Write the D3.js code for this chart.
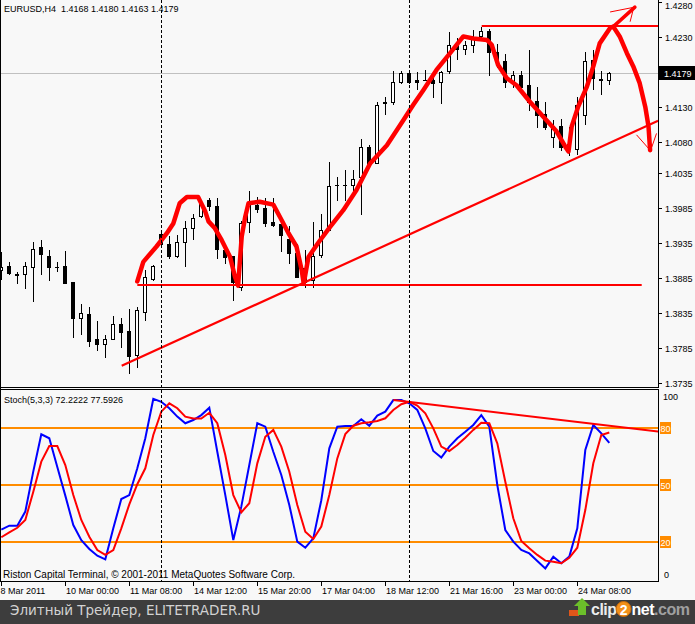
<!DOCTYPE html>
<html><head><meta charset="utf-8">
<script src="https://cdn.jsdelivr.net/npm/d3@7"></script>
<style>body{margin:0;background:#f8f8f8}svg{display:block}</style>
</head><body><svg id="c" width="695" height="624"></svg>
<script>
// ---------- DATA ----------
const symbolTitle = "EURUSD,H4  1.4168 1.4180 1.4163 1.4179";
const stochTitle = "Stoch(5,3,3) 72.2222 77.5926";
const copyright = "Riston Capital Terminal, © 2001-2011 MetaQuotes Software Corp.";
const lastPrice = 1.4179;

const opens  = [1.3897,1.3902,1.3891,1.3890,1.3901,1.3929,1.3917,1.3901,1.3902,1.3879,1.3828,1.3833,1.3797,1.3791,1.3798,1.3819,1.3809,1.3775,1.3836,1.3884,
  1.3948,1.3933,1.3916,1.3936,1.3957,1.3973,1.3996,1.3988,1.3925,1.3917,1.3872,1.3965,1.3989,1.3985,1.3965,1.3962,1.3941,1.3920,1.3899,1.3882,
  1.3918,1.3954,1.4018,1.4018,1.4018,1.4029,1.4072,1.4049,1.4137,1.4137,1.4165,1.4178,1.4168,1.4169,1.4169,1.4165,1.4181,1.4219,1.4213,1.4218,
  1.4232,1.4239,1.4208,1.4196,1.4165,1.4176,1.4161,1.4139,1.4120,1.4087,1.4103,1.4077,1.4070,1.4118,1.4197,1.4170,1.4168];
const highs  = [1.3922,1.3908,1.3894,1.3908,1.3936,1.3940,1.3925,1.3908,1.3924,1.3879,1.3848,1.3843,1.3823,1.3803,1.3830,1.3828,1.3841,1.3843,1.3896,1.3903,
  1.3952,1.3945,1.3946,1.3967,1.3977,1.3994,1.3999,1.3999,1.3932,1.3917,1.3967,1.4010,1.4001,1.3999,1.3999,1.3972,1.3960,1.3934,1.3925,1.3965,
  1.3977,1.4051,1.4029,1.4040,1.4039,1.4084,1.4075,1.4137,1.4144,1.4182,1.4182,1.4180,1.4180,1.4183,1.4172,1.4182,1.4237,1.4228,1.4225,1.4240,
  1.4244,1.4242,1.4220,1.4206,1.4182,1.4182,1.4212,1.4158,1.4137,1.4111,1.4113,1.4101,1.4144,1.4208,1.4211,1.4182,1.4180];
const lows   = [1.3884,1.3891,1.3878,1.3871,1.3852,1.3891,1.3882,1.3895,1.3877,1.3801,1.3804,1.3788,1.3782,1.3772,1.3797,1.3786,1.3749,1.3758,1.3824,1.3882,
  1.3930,1.3914,1.3915,1.3902,1.3941,1.3972,1.3982,1.3913,1.3907,1.3853,1.3867,1.3951,1.3979,1.3960,1.3960,1.3924,1.3906,1.3886,1.3872,1.3872,
  1.3915,1.3953,1.3996,1.3996,1.4001,1.3977,1.4046,1.4049,1.4120,1.4134,1.4164,1.4164,1.4156,1.4168,1.4144,1.4135,1.4178,1.4199,1.4206,1.4208,
  1.4230,1.4175,1.4187,1.4158,1.4158,1.4154,1.4125,1.4101,1.4099,1.4072,1.4068,1.4061,1.4063,1.4106,1.4156,1.4149,1.4163];
const closes = [1.3901,1.3892,1.3889,1.3902,1.3927,1.3919,1.3901,1.3901,1.3878,1.3828,1.3834,1.3795,1.3790,1.3798,1.3819,1.3808,1.3773,1.3839,1.3886,1.3902,
  1.3933,1.3916,1.3936,1.3957,1.3971,1.3991,1.3988,1.3927,1.3915,1.3879,1.3964,1.3992,1.3984,1.3964,1.3961,1.3946,1.3920,1.3886,1.3879,1.3917,
  1.3954,1.4016,1.4018,1.4018,1.4027,1.4072,1.4048,1.4133,1.4135,1.4166,1.4178,1.4165,1.4166,1.4168,1.4164,1.4180,1.4219,1.4213,1.4219,1.4227,
  1.4239,1.4208,1.4194,1.4165,1.4176,1.4158,1.4137,1.4118,1.4101,1.4103,1.4072,1.4072,1.4133,1.4196,1.4172,1.4168,1.4179];

const stochK = [26.5,28.6,28.6,36,57.2,76.7,74.6,59.5,44.4,28.9,21,16.3,12.8,10.9,27.2,42.6,44.7,58.8,74.6,95.3,
  93.8,90.4,86,82.5,84.2,86.8,90.7,67.5,44.7,21,38.6,60.5,82.5,80.7,67.5,55.3,39.5,20.2,17,21.9,
  42,69.3,80.7,81,81,84.6,81.2,86.5,88.6,94.7,94.7,93,89.5,79.8,67.9,64.4,70.2,74.6,78,81.6,
  86.8,80.7,50,26.3,20.2,15.8,14,10,6.1,12.3,8.8,12.3,27.2,68.4,81.6,77.2,72.2];
const stochD = [22.5,25.1,27.5,31.6,46.5,62.3,70.5,70.5,60.5,44.7,31.6,22.8,15.8,13.2,15.8,27.2,39.8,50.4,58.8,76.3,
  88.6,93,90.4,86,85,85,88,82.5,65.8,44.7,35.6,40.4,61.4,75.4,79,70.2,57,39.5,25.4,21.6,
  28.1,44.7,64,76.8,81.2,82.5,83,83.7,85.1,89.5,92.5,93.8,91.8,87.7,79.8,70.2,67.9,71,74.9,79,
  82.8,82.5,71.9,51.7,32.5,20.5,16.7,13.2,10.2,9.6,8.8,11.7,17,36.8,61.4,76.3,77.6];

const priceTicks = [1.4280,1.4230,1.4130,1.4080,1.4035,1.3985,1.3935,1.3885,1.3835,1.3785,1.3735];
const timeTickIdx = [0,8,16,24,32,40,48,56,64,72];
const timeLabels = ["8 Mar 2011","10 Mar 00:00","11 Mar 08:00","14 Mar 12:00","15 Mar 20:00","17 Mar 04:00","18 Mar 12:00","21 Mar 16:00","23 Mar 00:00","24 Mar 08:00"];
const stochLevels = [80,50,20];
const weekSeparators = [20,51];

// hand-drawn annotations, in (bar index, price) / (bar index, stoch value)
const supportLine = [[17.0,1.3875],[80.05,1.3875]];
const resistanceLine = [[60.05,1.4246],[82.1,1.4246]];
const trendLine = [[15.05,1.3759],[82.1,1.4110]];
const patternCurve = [[17.0,1.3880],[17.75,1.3908],[19.4,1.3930],[20.7,1.3949],[21.5,1.3963],[22.3,1.3992],[23.2,1.4001],[24.6,1.4001],
  [25.5,1.3980],[25.9,1.3966],[26.7,1.3956],[27.55,1.3939],[28.6,1.3915],[29.2,1.3887],[29.6,1.3874],[30.05,1.3944],[30.5,1.3973],[30.9,1.3992],
  [32.3,1.3994],[34.0,1.3990],[34.8,1.3973],[35.9,1.3949],[36.9,1.3930],[37.55,1.3896],[37.8,1.3877],[38.4,1.3915],[39.6,1.3935],[41.1,1.3958],
  [42.75,1.3982],[44.4,1.4011],[46.1,1.4049],[48.2,1.4075],[50.25,1.4111],[51.5,1.4133],[52.75,1.4154],[54.4,1.4183],[56.1,1.4207],[57.75,1.4231],
  [59.0,1.4228],[60.7,1.4226],[61.3,1.4219],[62.1,1.4190],[63.2,1.4171],[64.4,1.4161],[66.1,1.4137],[67.75,1.4116],[69.4,1.4095],[70.5,1.4073],
  [70.9,1.4066],[71.3,1.4102],[72.1,1.4130],[73.2,1.4159],[74.0,1.4188],[74.8,1.4221],[76.1,1.4243],[76.5,1.4245],[77.3,1.4231],[78.2,1.4207],
  [79.0,1.4188],[79.8,1.4164],[80.5,1.4130],[80.9,1.4102],[81.1,1.4068]];
const arrowShaft = [[76.5,1.4245],[79.2,1.4273]];
const arrowBarbs = [[[76.1,1.4266],[79.2,1.4273]],[[78.6,1.4252],[79.0,1.4270]]];
const downBarbs = [[[79.4,1.4090],[81.1,1.4068]],[[81.9,1.4092],[81.3,1.4072]]];
const stochDivergence = [[49.0,94.7],[82.1,78.1]];

// ---------- DRAW ----------
const svg = d3.select('#c');
const FONT = "'Liberation Sans', Arial, sans-serif";
const mainBot = 387, stTop = 389, stBot = 581, axisX = 658;
const x = d3.scaleLinear().domain([0,76]).range([1.3,609.3]);
const y = d3.scaleLinear().domain([1.3735,1.4280]).range([382.6,2.2]);
const ys = d3.scaleLinear().domain([0,100]).range([580,390]);

svg.append('rect').attr('width',695).attr('height',624).attr('fill','#f8f8f8');
const defs = svg.append('defs');
defs.append('clipPath').attr('id','cm').append('rect').attr('x',0).attr('y',0).attr('width',axisX).attr('height',mainBot);
defs.append('clipPath').attr('id','cs').append('rect').attr('x',0).attr('y',stTop).attr('width',axisX).attr('height',stBot-stTop);

const gm = svg.append('g').attr('clip-path','url(#cm)');
const gs = svg.append('g').attr('clip-path','url(#cs)');

// price line
gm.append('line').attr('x1',0).attr('x2',axisX).attr('y1',Math.round(y(lastPrice))+0.5).attr('y2',Math.round(y(lastPrice))+0.5)
  .attr('stroke','#c0c0c0');

// separators
weekSeparators.forEach(i=>{
  const sx = Math.round(x(i))+0.5;
  svg.append('line').attr('x1',sx).attr('x2',sx).attr('y1',0).attr('y2',stBot)
    .attr('stroke','#000').attr('stroke-dasharray','3,2');
});

// candles
const cg = gm.append('g').attr('shape-rendering','crispEdges');
d3.range(opens.length).forEach(i=>{
  const cx = Math.round(x(i));
  const o=opens[i], c=closes[i];
  cg.append('line').attr('x1',cx+0.5).attr('x2',cx+0.5)
    .attr('y1',Math.round(y(highs[i]))).attr('y2',Math.round(y(lows[i]))+1).attr('stroke','#000');
  const t = Math.round(y(Math.max(o,c))), b = Math.round(y(Math.min(o,c)));
  if (b - t < 1) {
    cg.append('line').attr('x1',cx-2).attr('x2',cx+2).attr('y1',t+0.5).attr('y2',t+0.5).attr('stroke','#000');
  } else {
    cg.append('rect').attr('x',cx-1.5).attr('y',t+0.5).attr('width',3).attr('height',b-t)
      .attr('fill', c>=o ? '#fff' : '#000').attr('stroke','#000');
  }
});

// annotations (main)
const lm = d3.line().x(d=>x(d[0])).y(d=>y(d[1]));
[supportLine, resistanceLine].forEach(l=>gm.append('path').attr('d',lm(l)).attr('stroke','#ff0000').attr('stroke-width',2).attr('fill','none'));
gm.append('path').attr('d',lm(trendLine)).attr('stroke','#ff0000').attr('stroke-width',2.2).attr('fill','none');
gm.append('path').attr('d',lm(patternCurve)).attr('stroke','#ff0000').attr('stroke-width',4.5)
  .attr('fill','none').attr('stroke-linejoin','round').attr('stroke-linecap','round');
gm.append('path').attr('d',lm(arrowShaft)).attr('stroke','#ff0000').attr('stroke-width',3.5).attr('fill','none').attr('stroke-linecap','round');
arrowBarbs.concat(downBarbs).forEach(l=>gm.append('path').attr('d',lm(l)).attr('stroke','#ff0000').attr('stroke-width',1).attr('fill','none'));

// stoch levels
stochLevels.forEach(v=>{
  gs.append('line').attr('x1',0).attr('x2',axisX).attr('y1',Math.round(ys(v))).attr('y2',Math.round(ys(v)))
    .attr('stroke','#ff8c00').attr('stroke-width',2);
});
const ls = d3.line().x((d,i)=>x(i)).y(d=>ys(d));
gs.append('path').attr('d',ls(stochK)).attr('stroke','#0000ff').attr('stroke-width',2).attr('fill','none');
gs.append('path').attr('d',ls(stochD)).attr('stroke','#ff0000').attr('stroke-width',2).attr('fill','none');
const lsd = d3.line().x(d=>x(d[0])).y(d=>ys(d[1]));
gs.append('path').attr('d',lsd(stochDivergence)).attr('stroke','#ff0000').attr('stroke-width',2).attr('fill','none');

// frames
const fr = svg.append('g').attr('stroke','#000').attr('shape-rendering','crispEdges');
fr.append('line').attr('x1',0.5).attr('x2',0.5).attr('y1',0).attr('y2',stBot);
fr.append('line').attr('x1',axisX+0.5).attr('x2',axisX+0.5).attr('y1',0).attr('y2',mainBot+0.5);
fr.append('line').attr('x1',axisX+0.5).attr('x2',axisX+0.5).attr('y1',stTop).attr('y2',stBot+0.5);
fr.append('line').attr('x1',0).attr('x2',axisX+1).attr('y1',mainBot+0.5).attr('y2',mainBot+0.5);
fr.append('line').attr('x1',0).attr('x2',axisX+1).attr('y1',stTop+0.5).attr('y2',stTop+0.5);
fr.append('line').attr('x1',0).attr('x2',axisX+1).attr('y1',stBot+0.5).attr('y2',stBot+0.5);

// price axis
priceTicks.forEach(p=>{
  const py = Math.round(y(p))+0.5;
  fr.append('line').attr('x1',axisX).attr('x2',axisX+4).attr('y1',py).attr('y2',py);
  svg.append('text').attr('x',665).attr('y',Math.max(py+3.5, 8.5)).text(p.toFixed(4))
    .attr('font-family',FONT).attr('font-size','9px').attr('fill','#000');
});
const lpY = Math.round(y(lastPrice));
svg.append('rect').attr('x',659).attr('y',lpY-7).attr('width',36).attr('height',14).attr('fill','#000');
svg.append('text').attr('x',664).attr('y',lpY+3.5).text(lastPrice.toFixed(4))
  .attr('font-family',FONT).attr('font-size','9px').attr('fill','#fff');

// stoch axis
[[100,400],[0,578]].forEach(([v,ty])=>{
  svg.append('text').attr('x',v===100?663:664).attr('y',ty).text(String(v))
    .attr('font-family',FONT).attr('font-size','9px').attr('fill','#000');
});
stochLevels.forEach(v=>{
  const ly = Math.round(ys(v));
  svg.append('rect').attr('x',660).attr('y',ly-6).attr('width',11).attr('height',12).attr('fill','#ff8c00');
  svg.append('text').attr('x',665.5).attr('y',ly+3.5).attr('text-anchor','middle').text(String(v))
    .attr('font-family',FONT).attr('font-size','9px').attr('fill','#fff');
});

// time axis
timeTickIdx.forEach((i,k)=>{
  const tx = Math.round(x(i))+0.5;
  fr.append('line').attr('x1',tx).attr('x2',tx).attr('y1',stBot).attr('y2',stBot+5);
  svg.append('text').attr('x',tx+ (k===0?-1:0.5)).attr('y',594).text(timeLabels[k])
    .attr('font-family',FONT).attr('font-size','9px').attr('fill','#000');
});

// titles
svg.append('text').attr('x',4).attr('y',12).text(symbolTitle).attr('font-family',FONT).attr('font-size','9px').attr('fill','#000').style('white-space','pre');
svg.append('text').attr('x',4).attr('y',403).text(stochTitle).attr('font-family',FONT).attr('font-size','9px').attr('fill','#000');
svg.append('text').attr('x',3).attr('y',577.5).text(copyright).attr('font-family',FONT).attr('font-size','10px').attr('fill','#000');

// footer
svg.append('rect').attr('x',0).attr('y',600).attr('width',695).attr('height',24).attr('fill','#3d3d3d');
svg.append('text').attr('x',10).attr('y',615).text('Элитный Трейдер, ELITETRADER.RU')
  .attr('font-family',"'DejaVu Sans', sans-serif").attr('font-size','13.5px').attr('fill','#d2d2d2');
// clip2net logo
const lg = svg.append('g');
lg.append('rect').attr('x',569).attr('y',610).attr('width',10).attr('height',6).attr('fill','#e0561a');
lg.append('polygon').attr('points','582,598 590,606 586,606 586,615 578,615 578,606 574,606').attr('fill','#6cbf2a');
let lx = 591;
const part = (txt, col) => {
  const t = lg.append('text').attr('x',lx).attr('y',615).text(txt).attr('font-family',FONT)
    .attr('font-weight','bold').attr('font-size','16px').attr('letter-spacing','-0.5px').attr('fill',col);
  lx += t.node().getComputedTextLength();
  return t;
};
part('clip','#ececec');
lg.append('circle').attr('cx',lx+7).attr('cy',609).attr('r',7.5).attr('fill','#f39019').attr('stroke','#c86a0a');
lg.append('text').attr('x',lx+7).attr('y',614.5).attr('text-anchor','middle').text('2').attr('font-family',FONT)
  .attr('font-weight','bold').attr('font-size','14px').attr('fill','#fff');
lx += 15;
part('net','#ffffff');
part('.com','#a0a0a0');
</script></body></html>
